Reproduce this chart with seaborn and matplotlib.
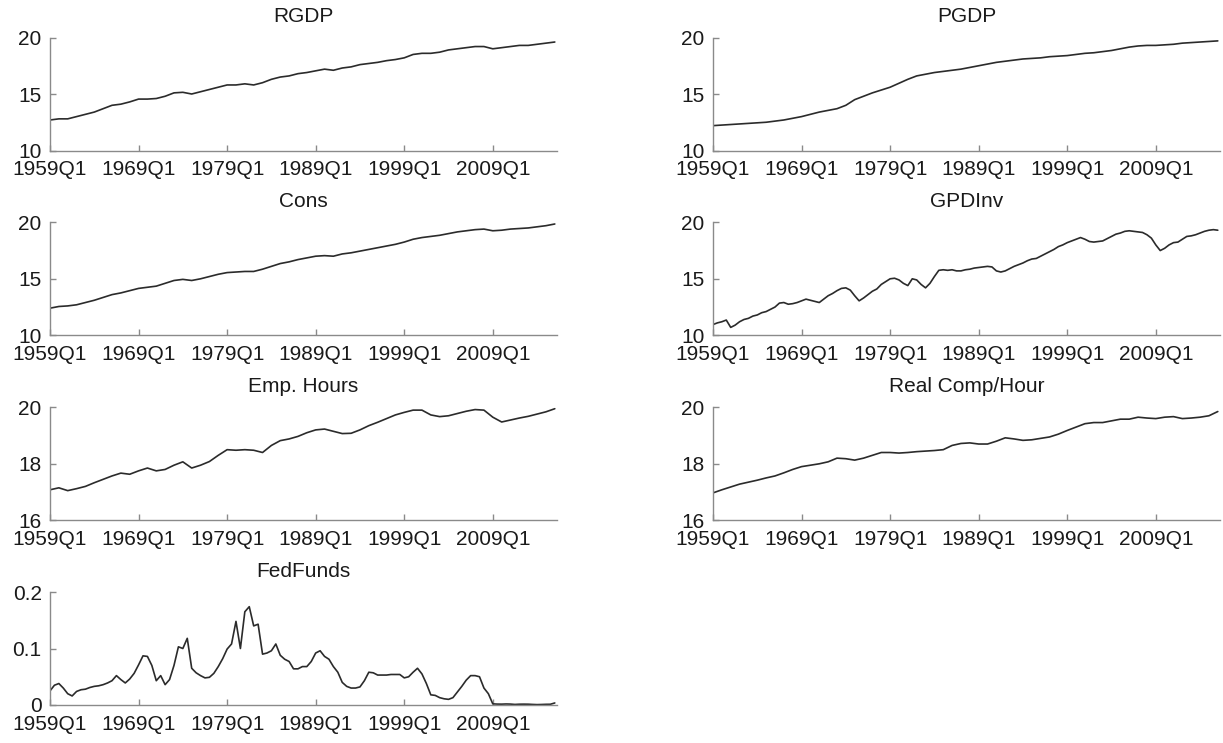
import matplotlib
matplotlib.use("Agg")
import numpy as np
import pandas as pd
import matplotlib.pyplot as plt
import seaborn as sns

# ---------------- data ----------------
tick_labels = ["1959Q1", "1969Q1", "1979Q1", "1989Q1", "1999Q1", "2009Q1"]
tick_quarters = [0, 40, 80, 120, 160, 200]
n_quarters = 230  # 1959Q1 .. 2016Q2

# annual values (Q1 of 1959..2016)
rgdp = [12.7, 12.8, 12.8, 13.0, 13.2, 13.4, 13.7, 14.0, 14.1, 14.3,
        14.55, 14.55, 14.6, 14.8, 15.1, 15.15, 15.0, 15.2, 15.4, 15.6,
        15.8, 15.8, 15.9, 15.8, 16.0, 16.3, 16.5, 16.6, 16.8, 16.9,
        17.05, 17.2, 17.1, 17.3, 17.4, 17.6, 17.7, 17.8, 17.95, 18.05,
        18.2, 18.5, 18.6, 18.6, 18.7, 18.9, 19.0, 19.1, 19.2, 19.2,
        19.0, 19.1, 19.2, 19.3, 19.3, 19.4, 19.5, 19.6]
pgdp = [12.2, 12.25, 12.3, 12.35, 12.4, 12.45, 12.5, 12.6, 12.7, 12.85,
        13.0, 13.2, 13.4, 13.55, 13.7, 14.0, 14.5, 14.8, 15.1, 15.35,
        15.6, 15.95, 16.3, 16.6, 16.75, 16.9, 17.0, 17.1, 17.2, 17.35,
        17.5, 17.65, 17.8, 17.9, 18.0, 18.1, 18.15, 18.2, 18.3, 18.35,
        18.4, 18.5, 18.6, 18.65, 18.75, 18.85, 19.0, 19.15, 19.25, 19.3,
        19.3, 19.35, 19.4, 19.5, 19.55, 19.6, 19.65, 19.7]
cons = [12.4, 12.55, 12.6, 12.7, 12.9, 13.1, 13.35, 13.6, 13.75, 13.95,
        14.15, 14.25, 14.35, 14.6, 14.85, 14.95, 14.85, 15.0, 15.2, 15.4,
        15.55, 15.6, 15.65, 15.65, 15.85, 16.1, 16.35, 16.5, 16.7, 16.85,
        17.0, 17.05, 17.0, 17.2, 17.3, 17.45, 17.6, 17.75, 17.9, 18.05,
        18.25, 18.5, 18.65, 18.75, 18.85, 19.0, 19.15, 19.25, 19.35, 19.4,
        19.25, 19.3, 19.4, 19.45, 19.5, 19.6, 19.7, 19.85]
emp_hours = [17.08, 17.15, 17.05, 17.12, 17.2, 17.33, 17.45, 17.57, 17.67, 17.63,
             17.75, 17.85, 17.75, 17.8, 17.95, 18.07, 17.85, 17.95, 18.08, 18.3,
             18.5, 18.48, 18.5, 18.48, 18.4, 18.65, 18.82, 18.88, 18.97, 19.1,
             19.2, 19.23, 19.15, 19.07, 19.08, 19.2, 19.35, 19.47, 19.6, 19.73,
             19.82, 19.9, 19.9, 19.73, 19.67, 19.7, 19.78, 19.86, 19.92, 19.9,
             19.65, 19.48, 19.55, 19.62, 19.68, 19.76, 19.84, 19.95]
real_comp = [16.97, 17.08, 17.18, 17.28, 17.35, 17.42, 17.5, 17.57, 17.68, 17.8,
             17.9, 17.95, 18.0, 18.07, 18.2, 18.18, 18.13, 18.2, 18.3, 18.4,
             18.4, 18.38, 18.4, 18.43, 18.45, 18.47, 18.5, 18.65, 18.72, 18.74,
             18.7, 18.7, 18.8, 18.92, 18.88, 18.83, 18.85, 18.9, 18.95, 19.05,
             19.18, 19.3, 19.42, 19.46, 19.46, 19.52, 19.58, 19.58, 19.65, 19.62,
             19.6, 19.65, 19.67, 19.6, 19.62, 19.65, 19.7, 19.85]

# semi-annual values (Q1 and Q3 of 1959..2016Q1)
gpdinv = [10.95, 11.1, 11.2, 11.35, 10.7, 10.9, 11.2, 11.4, 11.5, 11.7,
          11.8, 12.0, 12.1, 12.3, 12.5, 12.85, 12.9, 12.75, 12.8, 12.9,
          13.05, 13.2, 13.1, 13.0, 12.9, 13.2, 13.5, 13.7, 13.95, 14.15,
          14.2, 14.0, 13.5, 13.05, 13.3, 13.6, 13.9, 14.1, 14.5, 14.75,
          15.0, 15.05, 14.9, 14.6, 14.4, 15.0, 14.9, 14.5, 14.2, 14.6,
          15.2, 15.75, 15.8, 15.75, 15.8, 15.7, 15.7, 15.8, 15.85, 15.95,
          16.0, 16.05, 16.1, 16.05, 15.7, 15.6, 15.7, 15.9, 16.1, 16.25,
          16.4, 16.6, 16.75, 16.8, 17.0, 17.2, 17.4, 17.6, 17.85, 18.0,
          18.2, 18.35, 18.5, 18.65, 18.5, 18.3, 18.25, 18.3, 18.35, 18.55,
          18.75, 18.95, 19.05, 19.2, 19.25, 19.2, 19.15, 19.1, 18.9, 18.6,
          18.0, 17.5, 17.7, 18.0, 18.2, 18.25, 18.5, 18.75, 18.8, 18.9,
          19.05, 19.2, 19.3, 19.35, 19.3]
fedfunds = [0.025, 0.035, 0.038, 0.03, 0.02, 0.016, 0.024, 0.027, 0.028, 0.031,
            0.033, 0.034, 0.036, 0.039, 0.043, 0.052, 0.045, 0.039, 0.046, 0.056,
            0.071, 0.087, 0.086, 0.07, 0.043, 0.052, 0.036, 0.045, 0.07, 0.103,
            0.1, 0.118, 0.065, 0.057, 0.052, 0.048, 0.049, 0.056, 0.068, 0.082,
            0.099, 0.108, 0.148, 0.1, 0.165, 0.174, 0.14, 0.143, 0.09, 0.092,
            0.096, 0.108, 0.088, 0.081, 0.077, 0.064, 0.064, 0.068, 0.068, 0.077,
            0.092, 0.096, 0.086, 0.081, 0.068, 0.058, 0.04, 0.033, 0.03, 0.03,
            0.032, 0.043, 0.058, 0.057, 0.053, 0.053, 0.053, 0.054, 0.054, 0.054,
            0.048, 0.05, 0.058, 0.065, 0.055, 0.038, 0.018, 0.017, 0.013, 0.011,
            0.01, 0.013, 0.023, 0.033, 0.044, 0.052, 0.052, 0.05, 0.03, 0.02,
            0.002, 0.0016, 0.0015, 0.0018, 0.0016, 0.001, 0.0014, 0.0015, 0.0014, 0.001,
            0.0007, 0.0009, 0.0012, 0.0013, 0.0036]

panels = [
    ("RGDP", rgdp, 4, (10, 20), [10, 15, 20], ["10", "15", "20"]),
    ("PGDP", pgdp, 4, (10, 20), [10, 15, 20], ["10", "15", "20"]),
    ("Cons", cons, 4, (10, 20), [10, 15, 20], ["10", "15", "20"]),
    ("GPDInv", gpdinv, 2, (10, 20), [10, 15, 20], ["10", "15", "20"]),
    ("Emp. Hours", emp_hours, 4, (16, 20), [16, 18, 20], ["16", "18", "20"]),
    ("Real Comp/Hour", real_comp, 4, (16, 20), [16, 18, 20], ["16", "18", "20"]),
    ("FedFunds", fedfunds, 2, (0, 0.2), [0, 0.1, 0.2], ["0", "0.1", "0.2"]),
]

# ---------------- style ----------------
sns.set_style("ticks")
plt.rcParams["font.family"] = ["Liberation Sans", "DejaVu Sans"]

W, H = 1223, 743
fig = plt.figure(figsize=(W / 100, H / 100), dpi=100)

col_left = [50 / W, 713 / W]
ax_w = 507 / W
ax_h = 113 / H
row_tops = [37.5, 222.3, 407.3, 592.0]

axis_grey = "#8a8a8a"
line_col = "#2b2b2b"
fs = 15

for i, (title, vals, step, ylim, yt, ytl) in enumerate(panels):
    r, c = divmod(i, 2)
    bottom = 1 - (row_tops[r] + 113) / H
    ax = fig.add_axes([col_left[c], bottom, ax_w, ax_h])
    df = pd.DataFrame({"q": np.arange(len(vals)) * step, "v": vals})
    sns.lineplot(data=df, x="q", y="v", ax=ax, color=line_col, linewidth=1.2)
    ax.set_xlim(0, n_quarters - 1)
    ax.set_ylim(*ylim)
    ax.set_xticks(tick_quarters)
    ax.set_xticklabels(tick_labels)
    ax.set_yticks(yt)
    ax.set_yticklabels(ytl)
    ax.set_xlabel("")
    ax.set_ylabel("")
    ax.set_title(title, fontsize=fs, pad=11, color="#1a1a1a")
    for s in ["top", "right"]:
        ax.spines[s].set_visible(False)
    for s in ["left", "bottom"]:
        ax.spines[s].set_color(axis_grey)
        ax.spines[s].set_linewidth(1.0)
    ax.tick_params(axis="both", direction="in", length=4, width=1.0,
                   color=axis_grey, labelsize=fs, labelcolor="#1a1a1a")
    ax.tick_params(axis="x", pad=7)
    ax.tick_params(axis="y", pad=6)

fig.savefig("out.png", dpi=100)
